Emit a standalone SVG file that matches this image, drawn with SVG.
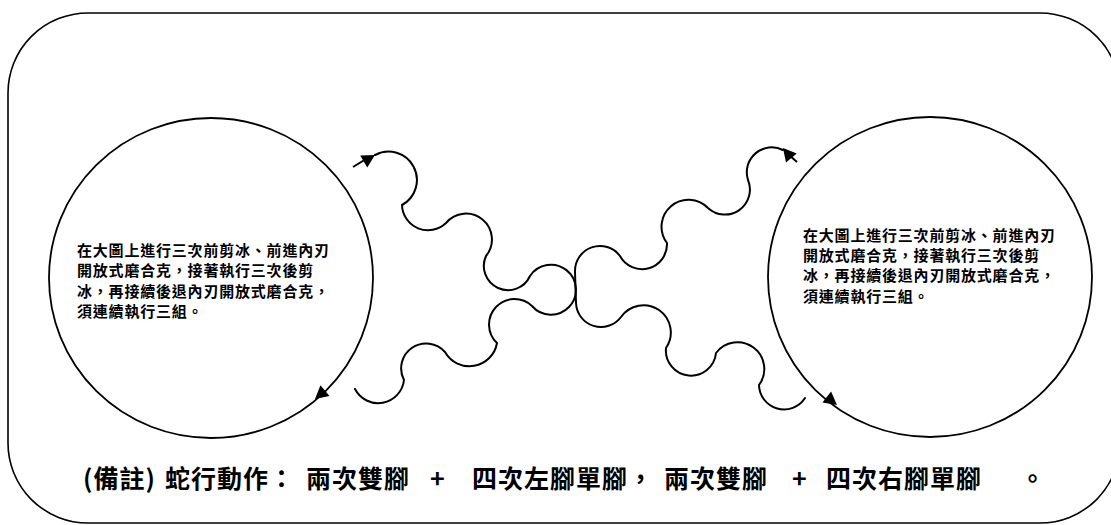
<svg xmlns="http://www.w3.org/2000/svg" xmlns:xlink="http://www.w3.org/1999/xlink" width="1111" height="525" viewBox="0 0 1111 525">
  <style>
    .frame { fill: none; stroke: #000; stroke-width: 1.6; }
    .circ { fill: none; stroke: #000; stroke-width: 1.8; }
    .snake { fill: none; stroke: #000; stroke-width: 2; stroke-linejoin: round; stroke-linecap: round; }
    .shaft { stroke: #000; stroke-width: 2; }
    .ah { fill: #000; stroke: none; }
    .ctext { font-family: "Noto Sans CJK TC", "Noto Sans CJK SC", sans-serif; font-weight: bold; font-size: 15px; letter-spacing: 0.8px; fill: #000; }
    .note { font-family: "Noto Sans CJK TC", "Noto Sans CJK SC", sans-serif; font-weight: bold; font-size: 25px; letter-spacing: 1px; fill: #000; }
  </style>
  <defs>
    <path id="ah" class="ah" d="M0,0 L-13,-7 L-13,7 Z"/>
  </defs>
  <rect width="1111" height="525" fill="#fff"/>
  <g id="frame">
    <rect class="frame" x="8" y="13" width="1112" height="510" rx="80" ry="80"/>
  </g>
  <g id="circle-left">
    <ellipse class="circ" cx="211" cy="278" rx="162" ry="160"/>
    <use xlink:href="#ah" href="#ah" transform="translate(315,399) rotate(140)"/>
    <text class="ctext">
      <tspan x="77" y="256">在大圖上進行三次前剪冰、前進內刃</tspan>
      <tspan x="77" y="276">開放式磨合克，接著執行三次後剪</tspan>
      <tspan x="77" y="297">冰，再接續後退內刃開放式磨合克，</tspan>
      <tspan x="77" y="317">須連續執行三組。</tspan>
    </text>
  </g>
  <g id="circle-right">
    <ellipse class="circ" cx="930" cy="277" rx="162" ry="160"/>
    <use xlink:href="#ah" href="#ah" transform="translate(837,405) rotate(38)"/>
    <text class="ctext">
      <tspan x="803" y="241">在大圖上進行三次前剪冰、前進內刃</tspan>
      <tspan x="803" y="261">開放式磨合克，接著執行三次後剪</tspan>
      <tspan x="803" y="281">冰，再接續後退內刃開放式磨合克，</tspan>
      <tspan x="803" y="302">須連續執行三組。</tspan>
    </text>
  </g>
  <g id="connectors">
    <line class="shaft" x1="353" y1="167" x2="366" y2="159"/>
    <use xlink:href="#ah" href="#ah" transform="translate(375,155) rotate(-30)"/>
    <path class="snake" d="M 375,155 A 27 27 0 0 1 402,205 A 26 26 0 0 0 446,223 A 25 25 0 0 1 486,256 A 24 24 0 0 0 530,276 A 25 25 0 1 1 532,306 A 25 25 0 0 0 497,343 A 28 28 0 0 1 445,352 A 25 25 0 0 0 404,380 A 26 26 0 0 1 355,389"/>
    <line class="shaft" x1="797" y1="162" x2="789" y2="155"/>
    <use xlink:href="#ah" href="#ah" transform="translate(783,148) rotate(-130)"/>
    <path class="snake" d="M 783,150 A 25 25 0 0 0 748,180 A 25 25 0 0 1 708,208 A 27 27 0 0 0 667,243 A 25 25 0 0 1 620,256 A 25 25 0 0 0 575,272 L 576,303 A 25 25 0 0 0 621,317 A 26 26 0 0 1 666,348 A 25 25 0 0 0 716,353 A 26 26 0 0 1 759,385 A 25 25 0 0 0 805,398"/>
  </g>
  <g id="note">
    <text class="note" y="488"><tspan x="83">(備註) </tspan><tspan x="165">蛇行動作：</tspan><tspan x="306">兩次雙腳 </tspan><tspan x="430">+ </tspan><tspan x="472">四次左腳單腳，</tspan><tspan x="664">兩次雙腳 </tspan><tspan x="792">+ </tspan><tspan x="826">四次右腳單腳 </tspan><tspan x="1020">。</tspan></text>
  </g>
</svg>
